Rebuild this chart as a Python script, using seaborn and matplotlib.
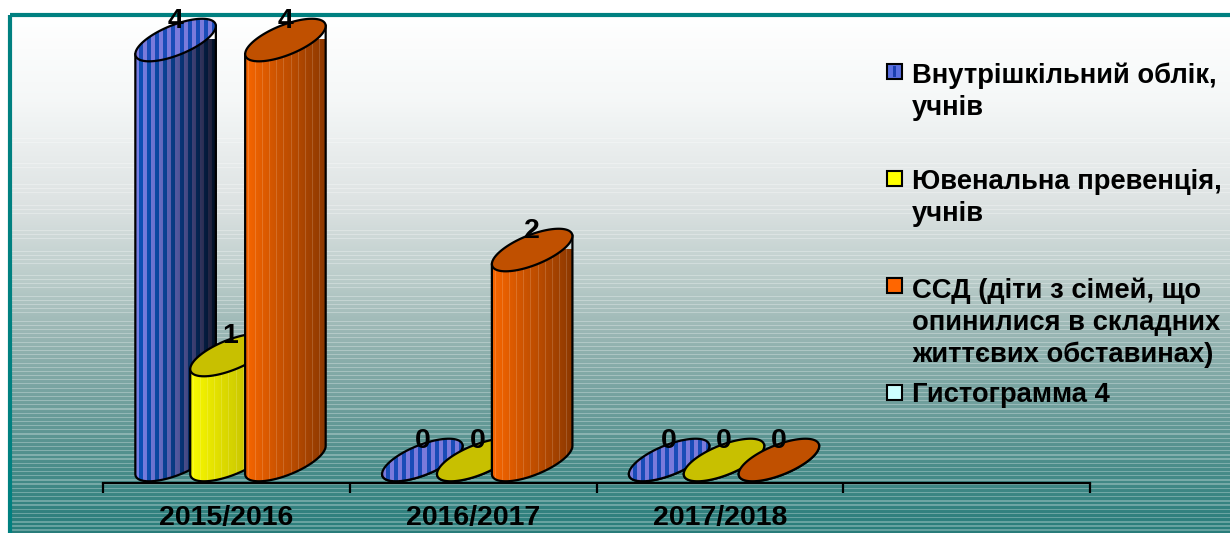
import numpy as np
import pandas as pd
import matplotlib
matplotlib.use("Agg")
import matplotlib.pyplot as plt
import seaborn as sns
from matplotlib.patches import Polygon, Rectangle

# ---- data ----
years = ["2015/2016", "2016/2017", "2017/2018", " "]
series = ["Внутрішкільний облік,\nучнів",
          "Ювенальна превенція,\nучнів",
          "ССД (діти з сімей, що\nопинилися в складних\nжиттєвих обставинах)",
          "Гистограмма 4"]
internal = [4, 0, 0]
juvenile = [1, 0, 0]
ssd = [4, 2, 0]
hist4 = []

rows = []
for name, vals in zip(series, [internal, juvenile, ssd, hist4]):
    for y, v in zip(years, vals):
        rows.append({"year": y, "series": name, "value": v})
df = pd.DataFrame(rows)

legend_colors = ["#5a6fe0", "#ffff00", "#ff6600", "#ccffff"]
pal = dict(zip(series, legend_colors))

sns.set_style("white")
plt.rcParams["font.family"] = ["Liberation Sans", "DejaVu Sans"]
plt.rcParams["font.weight"] = "bold"
plt.rcParams["text.color"] = "black"
plt.rcParams["xtick.color"] = "black"
plt.rcParams["xtick.labelcolor"] = "black"

FS = 20.5
FS_LEG = 19.7
W, H = 1230, 533
fig = plt.figure(figsize=(W / 100, H / 100), dpi=100)
fig.patch.set_facecolor("white")

# ---- background with teal gradient and frame ----
bg = fig.add_axes([0, 0, 1, 1], zorder=-10)
bg.axis("off")
bg.set_xlim(0, W)
bg.set_ylim(H, 0)
stop_y = [15, 100, 200, 280, 330, 400, 450, 500, 533]
stop_c = np.array([[1.00, 1.00, 1.00], [0.96, 0.97, 0.97], [0.87, 0.89, 0.89],
                   [0.73, 0.80, 0.79], [0.61, 0.72, 0.71], [0.45, 0.63, 0.62],
                   [0.33, 0.57, 0.56], [0.22, 0.52, 0.51], [0.16, 0.49, 0.48]])
ry = np.arange(15, H + 1)
grad = np.column_stack([np.interp(ry, stop_y, stop_c[:, k]) for k in range(3)])
for i, r in enumerate(ry):
    if r > 120:
        h = ((r * 2654435761) % 1000) / 1000
        if h < 0.06 + 0.30 * (r - 120) / 413:
            grad[i] = grad[i] * 0.72 + 0.28
bg.imshow(grad[:, None, :], extent=[10, W + 5, H, 15], aspect="auto",
          interpolation="nearest", zorder=0)
bg.add_patch(Rectangle((10, 15), W, H, fill=False, edgecolor="#008080", lw=3, zorder=1))

# ---- main axes ----
ax = fig.add_axes([103 / W, 50 / H, 987 / W, 467 / H])
ax.patch.set_alpha(0)
sns.barplot(data=df, x="year", y="value", hue="series", order=years, hue_order=series,
            palette=pal, width=0.89, errorbar=None, legend=False, ax=ax)
ax.set_xlim(-0.5, 3.5)
ax.set_ylim(-0.219, 4.229)
for s in ["left", "right", "top"]:
    ax.spines[s].set_visible(False)
ax.spines["bottom"].set_color("black")
ax.spines["bottom"].set_linewidth(1.6)
ax.set_yticks([])
ax.set_xlabel("")
ax.set_ylabel("")
ax.set_xticks(range(4))
ax.set_xticklabels(years, fontsize=FS, fontweight="bold", color="black")
ax.set_xticks(np.arange(-0.5, 4, 1), minor=True)
ax.tick_params(axis="x", which="major", bottom=False, length=0, pad=16)
ax.tick_params(axis="x", which="minor", bottom=True, length=7, width=1.6,
               color="black", direction="out")

# ---- cylinder styling on top of the seaborn bars ----
A, B, TH = 43.0, 15.0, np.deg2rad(22)
t_r = np.arctan(-B * np.tan(TH) / A)
t_l = t_r + np.pi


def ell(cx, cy, t):
    t = np.atleast_1d(t)
    x = cx + A * np.cos(t) * np.cos(TH) - B * np.sin(t) * np.sin(TH)
    y = cy + A * np.cos(t) * np.sin(TH) + B * np.sin(t) * np.cos(TH)
    return np.column_stack([x, y])


NC = 80
cols = np.arange(NC)


def body_colors(slot):
    f = (cols / (NC - 1))[:, None]
    if slot == 0:
        lav = np.array([0.47, 0.50, 0.90])
        blu = np.array([0.05, 0.32, 0.72])
        c = np.where(((cols // 4) % 2 == 0)[:, None], lav, blu)
        return c * (1 - 0.8 * f ** 1.4)
    if slot == 1:
        c = (1 - f) * np.array([0.98, 0.98, 0.0]) + f * np.array([0.70, 0.68, 0.0])
    else:
        c = (1 - f) * np.array([0.97, 0.40, 0.0]) + f * np.array([0.55, 0.22, 0.0])
    line = (cols % 7 == 3)[:, None]
    return np.where(line, np.clip(c * 0.85 + 0.15, 0, 1), c)


top_face = {1: "#c8c000", 2: "#c05000"}
inv = ax.transData.inverted()
ext_x = np.sqrt((A * np.cos(TH)) ** 2 + (B * np.sin(TH)) ** 2)
ext_y = np.sqrt((A * np.sin(TH)) ** 2 + (B * np.cos(TH)) ** 2)
step = 0.89 / 4

for p in list(ax.patches):
    cx_d = p.get_x() + p.get_width() / 2
    val = p.get_height()
    cat = int(round(cx_d))
    slot = int(round((cx_d - cat) / step + 1.5))
    p.set_alpha(0)
    xd = cx_d + 0.128
    px, py0 = ax.transData.transform((xd, 0))
    _, py1 = ax.transData.transform((xd, val))
    z = 2 + slot

    # body
    arc = ell(px, py0, np.linspace(t_l, t_r + 2 * np.pi, 80))
    body_pix = np.vstack([ell(px, py1, t_l), arc, ell(px, py1, t_r)])
    body = Polygon(inv.transform(body_pix), closed=True, transform=ax.transData,
                   facecolor="none", edgecolor="black", lw=1.6, zorder=z + 0.01, clip_on=False)
    (x0, y0), (x1, y1) = inv.transform([(px - ext_x, py0 - ext_y), (px + ext_x, py1)])
    im = ax.imshow(body_colors(slot)[None, :, :], extent=[x0, x1, y0, y1], aspect="auto",
                   interpolation="nearest", zorder=z)
    im.set_clip_path(Polygon(inv.transform(body_pix), closed=True, transform=ax.transData))
    ax.add_patch(body)

    # top
    top_pix = ell(px, py1, np.linspace(0, 2 * np.pi, 100))
    top_d = inv.transform(top_pix)
    if slot == 0:
        c = np.where(((cols // 4) % 2 == 0)[:, None], np.array([0.48, 0.48, 0.86]),
                     np.array([0.10, 0.30, 0.72]))
        (tx0, ty0), (tx1, ty1) = inv.transform([(px - ext_x, py1 - ext_y), (px + ext_x, py1 + ext_y)])
        im2 = ax.imshow(c[None, :, :], extent=[tx0, tx1, ty0, ty1], aspect="auto",
                        interpolation="nearest", zorder=z + 0.02)
        im2.set_clip_path(Polygon(top_d, closed=True, transform=ax.transData))
        ax.add_patch(Polygon(top_d, closed=True, facecolor="none", edgecolor="black",
                             lw=1.6, zorder=z + 0.03, clip_on=False))
    else:
        ax.add_patch(Polygon(top_d, closed=True, facecolor=top_face[slot], edgecolor="black",
                             lw=1.6, zorder=z + 0.03, clip_on=False))

    ax.annotate(f"{val:g}", xy=(xd, val), xytext=(0, 4), textcoords="offset points",
                ha="center", va="bottom", fontsize=FS, fontweight="bold",
                color="black", zorder=10)

ax.set_xlim(-0.5, 3.5)
ax.set_ylim(-0.219, 4.229)

# ---- legend ----
LS = 32
leg_y = [71, 178, 285, 392]
leg_base = [83, 189, 298, 402]
for name, col, yc, yb in zip(series, legend_colors, leg_y, leg_base):
    bg.add_patch(Rectangle((887, yc - 7.5), 15, 15, facecolor=col, edgecolor="black", lw=1.5, zorder=3))
    if col == "#5a6fe0":
        bg.add_patch(Rectangle((893, yc - 5.5), 3, 11, facecolor="#1a3fb0", lw=0, zorder=4))
    for k, line in enumerate(name.split("\n")):
        bg.text(912, yb + k * LS, line, fontsize=FS_LEG, fontweight="bold", va="baseline",
                ha="left", color="black", zorder=5)

fig.savefig("out.png", dpi=100)
